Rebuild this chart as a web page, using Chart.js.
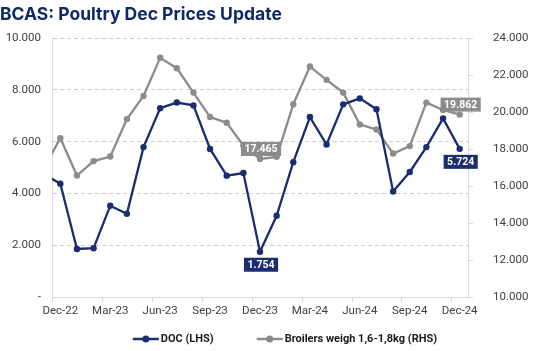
<!DOCTYPE html>
<html>
<head>
<meta charset="utf-8">
<script src="https://cdn.jsdelivr.net/npm/chart.js@4.4.1/dist/chart.umd.min.js"></script>
<style>
  html, body { margin: 0; padding: 0; background: #fff; }
  #wrap { width: 540px; height: 351px; }
</style>
</head>
<body>
<div id="wrap"><canvas id="chart" width="540" height="351"></canvas></div>
<script>
// months: first one (Nov-22) sits just outside the plot, clipped
var months = ['Nov-22', 'Dec-22', 'Jan-23', 'Feb-23', 'Mar-23', 'Apr-23', 'May-23', 'Jun-23', 'Jul-23',
    'Aug-23', 'Sep-23', 'Oct-23', 'Nov-23', 'Dec-23', 'Jan-24', 'Feb-24', 'Mar-24', 'Apr-24',
    'May-24', 'Jun-24', 'Jul-24', 'Aug-24', 'Sep-24', 'Oct-24', 'Nov-24', 'Dec-24'];
var docPrices = [4750, 4380, 1860, 1890, 3530, 3220, 5790, 7290, 7510, 7400, 5720, 4690, 4790,
    1754, 3140, 5210, 6950, 5890, 7440, 7670, 7250, 4080, 4830, 5790, 6900, 5724];
var broilerPrices = [16950, 18590, 16570, 17350, 17600, 19620, 20870, 22930, 22370, 21050, 19730,
    19420, 18200, 17465, 17580, 20420, 22460, 21740, 21050, 19330, 19060, 17760, 18160, 20510,
    20110, 19862];
var xTickMonths = ['Dec-22', 'Mar-23', 'Jun-23', 'Sep-23', 'Dec-23', 'Mar-24', 'Jun-24', 'Sep-24', 'Dec-24'];
var leftTicks = [0, 2000, 4000, 6000, 8000, 10000];
var rightTicks = [10000, 12000, 14000, 16000, 18000, 20000, 22000, 24000];
// value boxes: [dataset index, month, above/below]
var callouts = [[1, 'Dec-23', 'above'], [0, 'Dec-23', 'below'], [1, 'Dec-24', 'above'], [0, 'Dec-24', 'below']];

var navy = '#1a2d6f';
var grey = '#8c8c8c';
var font = 'Roboto, "DejaVu Sans", sans-serif';

function fmtK(v) {
    if (v === 0) return '-';
    return (v / 1000).toFixed(3);
}

function toPoints(arr) {
    return arr.map(function(v, i) { return { x: i - 1, y: v }; });
}

var extras = {
    id: 'extras',
    afterDatasetsDraw: function(chart) {
        var ctx = chart.ctx;
        var xs = chart.scales.x;
        var area = chart.chartArea;
        ctx.save();
        // category tick marks on the x axis
        ctx.strokeStyle = '#d9d9d9';
        ctx.lineWidth = 1;
        for (var t = -0.5; t <= 24.5; t += 3) {
            var px = Math.round(xs.getPixelForValue(t)) + 0.5;
            ctx.beginPath(); ctx.moveTo(px, area.bottom); ctx.lineTo(px, area.bottom + 5); ctx.stroke();
        }
        // value boxes
        ctx.font = 'bold 10.5px ' + font;
        ctx.textAlign = 'center';
        ctx.textBaseline = 'middle';
        callouts.forEach(function(c) {
            var ds = chart.data.datasets[c[0]];
            var idx = months.indexOf(c[1]);
            var pt = chart.getDatasetMeta(c[0]).data[idx];
            var txt = fmtK(ds.data[idx].y);
            var w = ctx.measureText(txt).width + 7;
            var h = 14;
            var cy = c[2] === 'above' ? pt.y - 10 : pt.y + 13;
            ctx.fillStyle = c[0] === 0 ? navy : grey;
            ctx.fillRect(pt.x - w / 2 + 1, cy - h / 2, w, h);
            ctx.fillStyle = '#fff';
            ctx.fillText(txt, pt.x + 1, cy + 0.5);
        });
        ctx.restore();
    },
    afterDraw: function(chart) {
        // legend: line-with-dot markers, bold labels
        var ctx = chart.ctx;
        var dsets = chart.data.datasets;
        ctx.save();
        ctx.font = 'bold 11px ' + font;
        ctx.textBaseline = 'middle';
        ctx.textAlign = 'left';
        var mark = 26, gap = 2, between = 43;
        var total = 0;
        dsets.forEach(function(ds, i) {
            total += mark + gap + ctx.measureText(ds.label).width + (i ? 0 : between);
        });
        var x = chart.width / 2 + 15 - total / 2;
        var y = 339;
        dsets.forEach(function(ds) {
            ctx.strokeStyle = ds.borderColor;
            ctx.lineWidth = 2.5;
            ctx.beginPath(); ctx.moveTo(x, y); ctx.lineTo(x + mark, y); ctx.stroke();
            ctx.fillStyle = ds.borderColor;
            ctx.beginPath(); ctx.arc(x + mark / 2, y, 3.5, 0, Math.PI * 2); ctx.fill();
            x += mark + gap;
            ctx.fillStyle = '#1a1a1a';
            ctx.fillText(ds.label, x, y + 0.5);
            x += ctx.measureText(ds.label).width + between;
        });
        ctx.restore();
    }
};

var ctx = document.getElementById('chart').getContext('2d');
var chart = new Chart(ctx, {
    type: 'line',
    data: {
        datasets: [{
            label: 'DOC (LHS)',
            data: toPoints(docPrices),
            yAxisID: 'y',
            borderColor: navy,
            backgroundColor: navy,
            borderWidth: 2.3,
            pointRadius: 3.2,
            pointBorderWidth: 0,
            tension: 0
        }, {
            label: 'Broilers weigh 1,6-1,8kg (RHS)',
            data: toPoints(broilerPrices),
            yAxisID: 'y2',
            borderColor: grey,
            backgroundColor: grey,
            borderWidth: 2.3,
            pointRadius: 3.2,
            pointBorderWidth: 0,
            tension: 0
        }]
    },
    options: {
        responsive: false,
        animation: false,
        layout: { padding: { left: 0, right: 0, top: 0, bottom: 26 } },
        plugins: {
            title: {
                display: true,
                text: 'BCAS: Poultry Dec Prices Update',
                align: 'start',
                color: '#0f2866',
                font: { family: 'Inter, Roboto, sans-serif', size: 17.5, weight: 'bold' },
                padding: { top: 4, bottom: 13 }
            },
            legend: { display: false },
            tooltip: { enabled: false }
        },
        scales: {
            x: {
                type: 'linear',
                min: -0.5,
                max: 24.5,
                afterBuildTicks: function(s) {
                    s.ticks = xTickMonths.map(function(m) { return { value: months.indexOf(m) - 1 }; });
                },
                ticks: {
                    color: '#404040',
                    font: { family: font, size: 11.5 },
                    padding: 7,
                    maxRotation: 0,
                    callback: function(v) { return months[v + 1]; }
                },
                grid: { display: false, drawTicks: false },
                border: { display: true, color: '#d9d9d9', width: 1 }
            },
            y: {
                position: 'left',
                min: 0,
                max: 10000,
                afterBuildTicks: function(s) { s.ticks = leftTicks.map(function(v) { return { value: v }; }); },
                afterFit: function(s) { s.width = 52; },
                ticks: {
                    color: '#404040',
                    font: { family: font, size: 11.5 },
                    padding: 11,
                    callback: function(v) { return fmtK(v); }
                },
                grid: { color: '#d0d0d0', drawTicks: false, lineWidth: 1 },
                border: { display: true, color: '#d9d9d9', dash: [4, 3] }
            },
            y2: {
                position: 'right',
                min: 10000,
                max: 24000,
                afterBuildTicks: function(s) { s.ticks = rightTicks.map(function(v) { return { value: v }; }); },
                afterFit: function(s) { s.width = 72; },
                ticks: {
                    color: '#404040',
                    font: { family: font, size: 11.5 },
                    padding: 20,
                    callback: function(v) { return fmtK(v); }
                },
                grid: { drawOnChartArea: false, drawTicks: true, tickLength: 5, color: '#d9d9d9' },
                border: { display: true, color: '#d9d9d9' }
            }
        }
    },
    plugins: [extras]
});
</script>
</body>
</html>
